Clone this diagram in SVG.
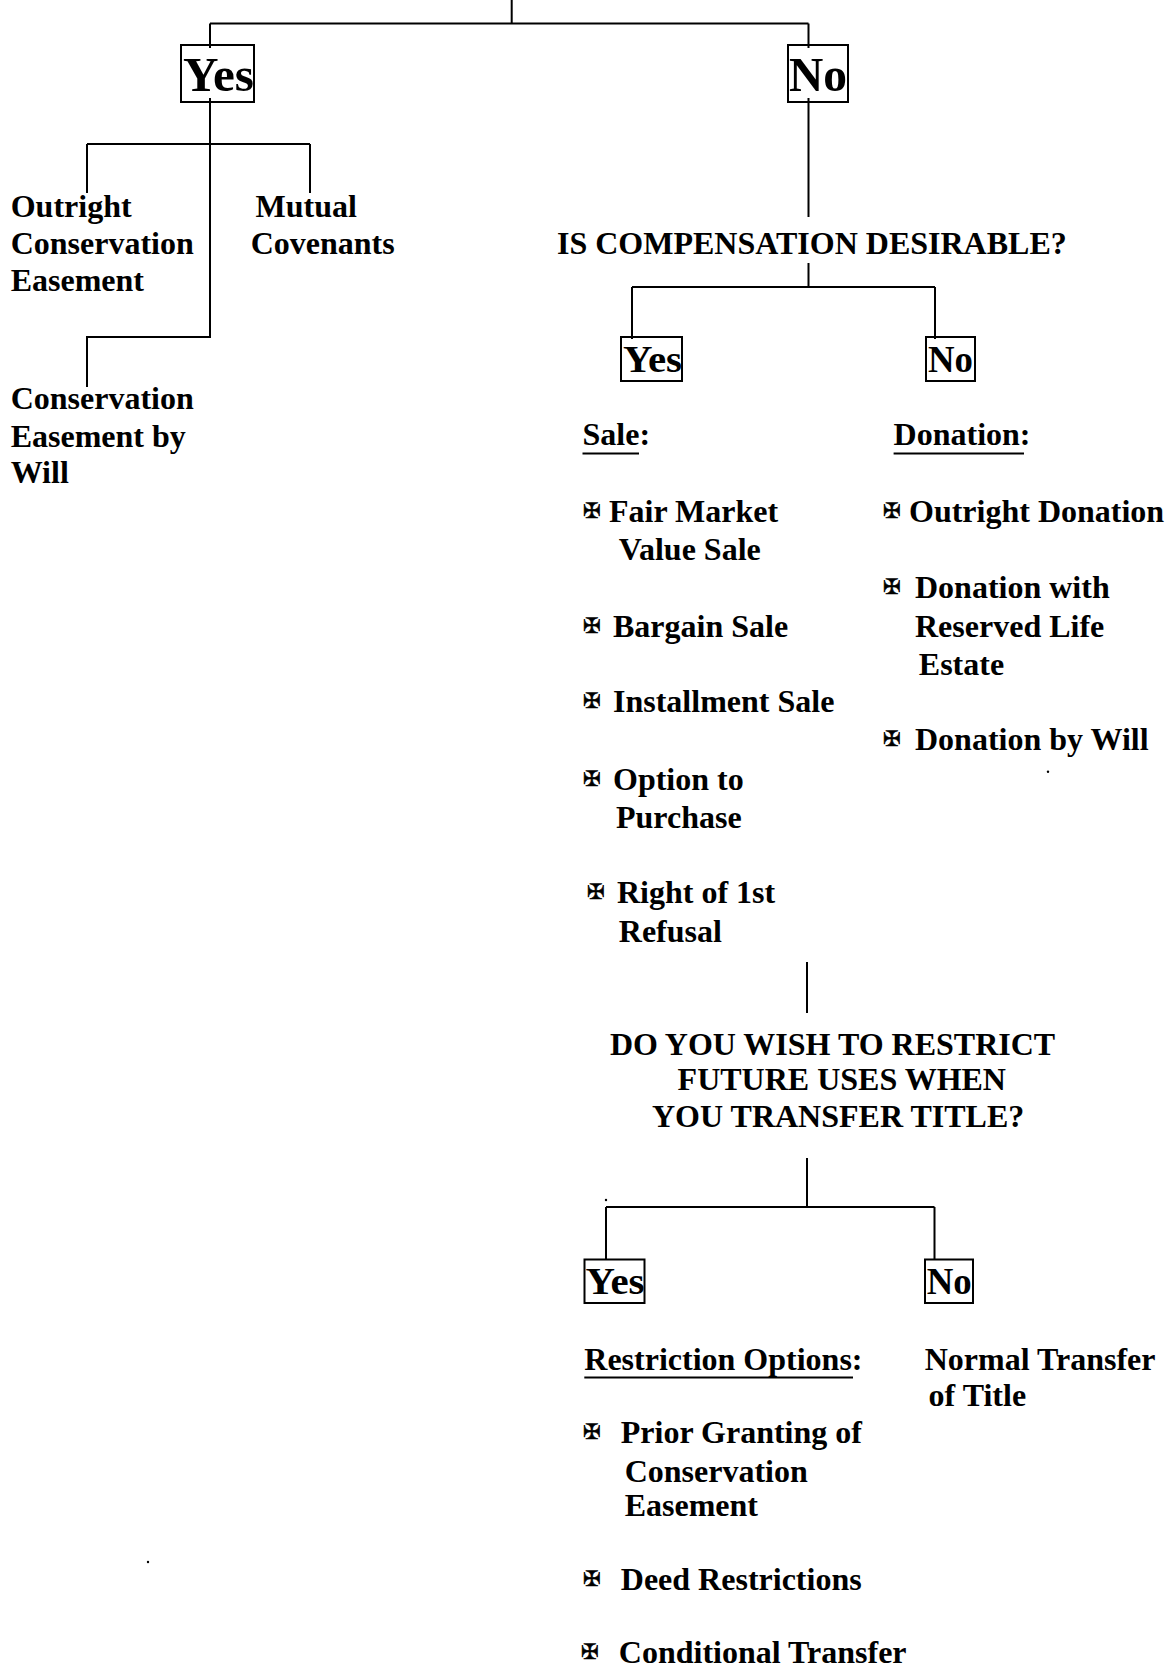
<svg xmlns="http://www.w3.org/2000/svg" width="1175" height="1669" viewBox="0 0 1175 1669">
<style>
text{font-family:"Liberation Serif","Times New Roman",serif;font-weight:bold;font-size:32px;fill:#000}
.box{fill:none;stroke:#000;stroke-width:2}
.ln{fill:none;stroke:#000;stroke-width:2}
.big{font-size:49px}
.mid{font-size:38px}
.bul{font-family:"DejaVu Sans",sans-serif;font-size:21px;font-weight:bold;stroke:#000;stroke-width:0.6}
</style>
<rect width="1175" height="1669" fill="#fff"/>
<g id="connectors" class="ln">
<path d="M511.7,0V23.5M210,23.5H808.5M210,23.5V48M808.5,23.5V48"/>
<path d="M210,98V337H87V387M87,144H310M87,144V193M310,144V193"/>
<path d="M808.5,98V217M808.5,263V287M632,287H935M632,287V339M935,287V339"/>
<path d="M807,962V1013M807,1158V1207M606,1207H934.5M606,1207V1260M934.5,1207V1260"/>
</g>
<g id="yes1"><rect class="box" x="181" y="45" width="73" height="57"/><text class="big" x="183" y="91" textLength="71" lengthAdjust="spacingAndGlyphs">Yes</text></g>
<g id="no1"><rect class="box" x="788" y="45" width="60" height="57"/><text class="big" x="789" y="91" textLength="58" lengthAdjust="spacingAndGlyphs">No</text></g>
<g id="outright-ce"><text x="10.7" y="216.7">Outright</text><text x="10.7" y="254">Conservation</text><text x="10.7" y="291">Easement</text></g>
<g id="mutual"><text x="255.6" y="216.7">Mutual</text><text x="250.7" y="254">Covenants</text></g>
<g id="ce-will"><text x="10.7" y="409.3">Conservation</text><text x="10.7" y="446.5">Easement by</text><text x="10.7" y="483.3">Will</text></g>
<g id="q-compensation"><text x="557" y="254">IS COMPENSATION DESIRABLE?</text></g>
<g id="yes2"><rect class="box" x="621" y="337" width="61" height="44"/><text class="mid" x="623" y="372" textLength="59" lengthAdjust="spacingAndGlyphs">Yes</text></g>
<g id="no2"><rect class="box" x="926" y="337" width="49" height="44"/><text class="mid" x="928" y="372" textLength="45" lengthAdjust="spacingAndGlyphs">No</text></g>
<g id="sale">
<text x="582.5" y="445">Sale:</text><path class="ln" d="M582.5,453.5H639"/>
<text class="bul" x="583" y="518">✠</text><text x="609" y="521.7">Fair Market</text><text x="618.8" y="560">Value Sale</text>
<text class="bul" x="583" y="633">✠</text><text x="613" y="636.7">Bargain Sale</text>
<text class="bul" x="583" y="708">✠</text><text x="613" y="711.7">Installment Sale</text>
<text class="bul" x="583" y="786">✠</text><text x="613" y="790">Option to</text><text x="616" y="828.3">Purchase</text>
<text class="bul" x="587" y="899">✠</text><text x="617" y="903.3">Right of 1st</text><text x="618.8" y="941.7">Refusal</text>
</g>
<g id="donation">
<text x="893.6" y="445">Donation:</text><path class="ln" d="M893.6,453.5H1024"/>
<text class="bul" x="883" y="518">✠</text><text x="909" y="521.7">Outright Donation</text>
<text class="bul" x="883" y="594">✠</text><text x="915" y="598.3">Donation with</text><text x="915" y="636.7">Reserved Life</text><text x="918.8" y="675">Estate</text>
<text class="bul" x="883" y="746">✠</text><text x="915" y="750">Donation by Will</text>
<circle cx="1048" cy="771.7" r="1.2" fill="#000"/>
</g>
<g id="q-restrict"><text x="610" y="1054.5">DO YOU WISH TO RESTRICT</text><text x="677.6" y="1089.8">FUTURE USES WHEN</text><text x="652" y="1126.5">YOU TRANSFER TITLE?</text></g>
<circle cx="606" cy="1200" r="1.2" fill="#000"/>
<g id="yes3"><rect class="box" x="584.5" y="1259.5" width="60" height="43.5"/><text class="mid" x="585.5" y="1294" textLength="59" lengthAdjust="spacingAndGlyphs">Yes</text></g>
<g id="no3"><rect class="box" x="925" y="1259.5" width="48" height="43.5"/><text class="mid" x="926.7" y="1294" textLength="45" lengthAdjust="spacingAndGlyphs">No</text></g>
<g id="restriction">
<text x="584.3" y="1369.5">Restriction Options:</text><path class="ln" d="M584.3,1377.5H853"/>
<text class="bul" x="583" y="1439">✠</text><text x="620.8" y="1443">Prior Granting of</text><text x="624.7" y="1481.8">Conservation</text><text x="624.7" y="1516">Easement</text>
<text class="bul" x="583" y="1586">✠</text><text x="620.8" y="1589.6">Deed Restrictions</text>
<text class="bul" x="581" y="1659">✠</text><text x="618.8" y="1663">Conditional Transfer</text>
</g>
<g id="normal"><text x="924.7" y="1369.5">Normal Transfer</text><text x="928.6" y="1406">of Title</text></g>
<circle cx="148" cy="1562" r="1.2" fill="#000"/>
</svg>
